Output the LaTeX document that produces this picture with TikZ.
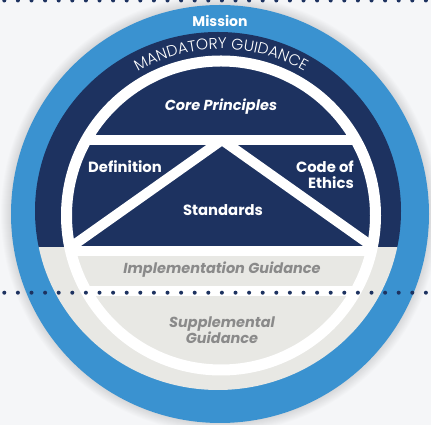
\documentclass[tikz,border=0pt]{standalone}
\usepackage{fontspec}
\setmainfont{Poppins}
\newfontfamily\finaFont{Poppins Light}
\usepackage{tikz}
\usetikzlibrary{decorations.text,positioning,calc}
\definecolor{azul}{RGB}{58,146,208}
\definecolor{marino}{RGB}{29,50,96}
\definecolor{grisClaro}{RGB}{232,232,228}
\definecolor{grisTexto}{RGB}{138,138,138}
\definecolor{fondo}{RGB}{245,246,248}
\tikzstyle{banda} =[white, line width=10pt]
\tikzstyle{rotulo}=[text=white, inner sep=0pt, align=center,
                    font=\bfseries\fontsize{14.8}{16}\selectfont]
\tikzstyle{guia}  =[text=grisTexto, inner sep=0pt, align=center,
                    font=\bfseries\itshape\fontsize{14.5}{16}\selectfont]
\tikzstyle{punto} =[circle, fill=marino, minimum size=4pt,
                    inner sep=0pt, outer sep=0pt]

\begin{document}
\begin{tikzpicture}[x=1pt,y=1pt]
    \useasboundingbox (0,0) rectangle (431,425);
    \fill[fondo] (0,0) rectangle (431,425);

    \coordinate (cAzul) at (220,211);
    \coordinate (cMarino) at (218,214);
    \coordinate (cAnillo) at (221,209.5);

    % soft halo and outer ring
    \foreach \k in {1,...,10}
        \fill[black, opacity=0.012] (cAzul) circle (209+\k);
    \fill[azul] (cAzul) circle (209);

    \begin{scope}
        \clip (0,177) rectangle (431,425);
        \fill[marino] (cMarino) ellipse (183 and 179);
    \end{scope}
    \begin{scope}
        \clip (0,0) rectangle (431,177);
        \fill[grisClaro] (cMarino) ellipse (183 and 179);
    \end{scope}

    % white bands inside the ring
    \begin{scope}
        \clip (cAnillo) circle (154.5);
        \coordinate (apex) at (222,285);
        \coordinate (izq) at ($(apex)+(215.3:220)$);
        \coordinate (der) at ($(apex)+(-35.3:220)$);
        \coordinate (h1a) at (40,284.5);  \coordinate (h1b) at (400,284.5);
        \coordinate (h2a) at (40,173.5);  \coordinate (h2b) at (400,173.5);
        \coordinate (h3a) at (40,133.5);  \coordinate (h3b) at (400,133.5);
        \foreach \i/\j in {h1a/h1b,h2a/h2b,h3a/h3b,apex/izq,apex/der}
            \draw [banda] (\i) -- (\j);
    \end{scope}
    \draw [white, line width=11pt] (cAnillo) circle (154.5);

    % dotted rules
    \foreach \k in {0,...,31} {
        \node[punto] (arriba\k) at (4.3+13.6*\k,424.5) {};
        \node[punto] (abajo\k) at (4.3+13.6*\k,132.3) {};
    }

    \node[rotulo, font=\bfseries\fontsize{14}{15}\selectfont] (mision) at (220,404.5) {Mission};
    \path[decorate, decoration={text along path, text align=center,
        text={|\finaFont\fontsize{15.5}{16}\selectfont\color{white}|MANDATORY GUIDANCE}}]
        ($(cAnillo)+(150:166.5)$) arc (150:30:166.5);

    \node[rotulo, font=\bfseries\itshape\fontsize{14.5}{16}\selectfont] (principios) at (221,318) {Core Principles};
    \node[rotulo] (definicion) at (125,258) {Definition};
    \node[rotulo, anchor=east, align=right] (etica) at (354,250.5) {Code of\\Ethics};
    \node[rotulo] (normas) at (223,215) {Standards};
    \node[guia] (implementacion) at (222,155) {Implementation Guidance};
    \node[guia] (suplementaria) at (222,95) {Supplemental\\Guidance};
\end{tikzpicture}
\end{document}
